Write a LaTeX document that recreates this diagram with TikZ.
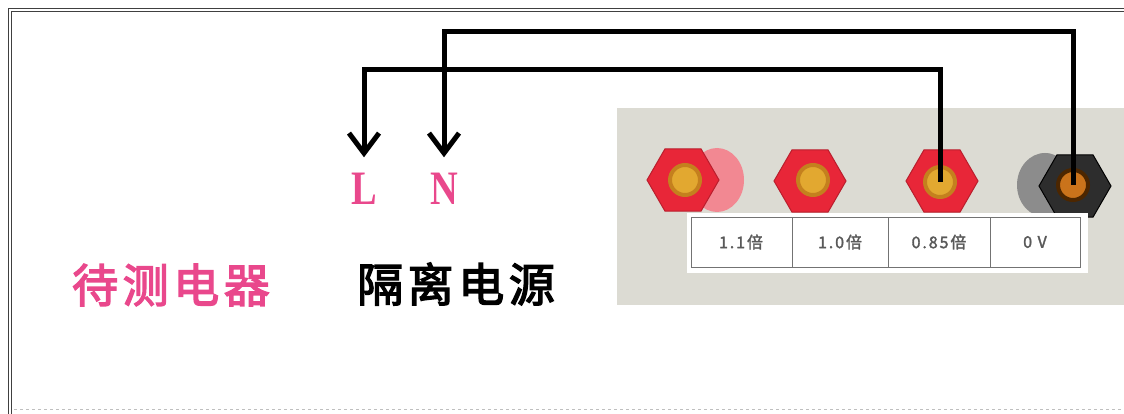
\documentclass[tikz,border=0pt]{standalone}
\usepackage{tikz}
\usepackage{xcolor}
\usepackage{graphicx}
\usepackage{fontspec}
\setmainfont{Liberation Serif}
\newfontfamily\cjkbig[LetterSpace=10,FakeBold=3]{Noto Sans CJK SC}
\newfontfamily\cjklbl[LetterSpace=12,FakeBold=2]{Noto Sans CJK SC}
\usetikzlibrary{arrows.meta}
\usetikzlibrary{shapes.geometric}
\definecolor{pinktxt}{RGB}{233,72,140}
\definecolor{panelgray}{RGB}{220,219,211}
\definecolor{nutred}{RGB}{232,38,56}
\definecolor{nutdark}{RGB}{45,45,45}
\definecolor{holegold}{RGB}{226,168,48}
\definecolor{holecore}{RGB}{196,128,30}

\begin{document}
\begin{tikzpicture}[x=1pt,y=-1pt,
	wire/.style={line width=5pt, line join=miter},
	nut/.style={regular polygon, regular polygon sides=6, minimum size=72pt, inner sep=0pt, fill=nutred, draw=nutred!80!black, line width=1pt},
	hole/.style={circle, minimum size=30pt, inner sep=0pt, fill=holegold, draw=holecore, line width=4pt},
	cell/.style={font=\cjklbl\fontsize{16pt}{16pt}\selectfont, text=black!65},
	bigtext/.style={font=\cjkbig\fontsize{46pt}{46pt}\selectfont},
	lnlabel/.style={font=\bfseries\fontsize{48pt}{48pt}\selectfont, text=pinktxt, inner sep=0pt, outer sep=16pt}]
	\useasboundingbox (0,0) rectangle (1124,414);
	% frame
	\draw[black!75, double=white, double distance=2pt, line width=1.3pt, line join=miter] (10,414) -- (10,10) -- (1124,10);
	\draw[black!25, dashed, line width=1pt] (14,409) -- (1124,409);
	
	% panel with the terminals
	\fill[panelgray] (617,108) rectangle (1124,305);
	\fill[nutred!55!white] (717,180) ellipse [x radius=27, y radius=32];
	\node[nut] (t1) at (683,180) {};
	\node[hole] (h1) at (685,180) {};
	\node[nut] (t2) at (810,181) {};
	\node[hole] (h2) at (813,180) {};
	\node[nut] (t3) at (942,181) {};
	\node[hole] (h3) at (940,182) {};
	\fill[black!45] (1045,185) ellipse [x radius=28, y radius=32];
	\node[nut, fill=nutdark, draw=black] (t4) at (1075,186) {};
	\node[hole, fill=holecore!90!red, draw=black!70!orange] (h4) at (1073,185) {};
	
	% label strip
	\fill[white] (687,213) rectangle (1088,273);
	\draw[black!55, line width=1pt] (691,218) rectangle (1080,267);
	\foreach \x in {792,888,990}
		\draw[black!55, line width=1pt] (\x,218) -- (\x,267);
	\node[cell] (c1) at (741,242) {1.1倍};
	\node[cell] (c2) at (840,242) {1.0倍};
	\node[cell] (c3) at (939,242) {0.85倍};
	\node[cell] (c4) at (1035,242) {0 V};
	
	% texts
	\node[bigtext, text=pinktxt] (dut) at (171,285) {待测电器};
	\node[bigtext, text=black] (src) at (456,284) {隔离电源};
	\node[lnlabel] (L) at (364,189) {\scalebox{0.8}[1]{L}};
	\node[lnlabel] (N) at (444,189) {\scalebox{0.8}[1]{N}};
	
	% wires
	\coordinate (Ltop) at (364,70);
	\coordinate (Ntop) at (444,32);
	\draw[wire,-{Straight Barb[length=20pt,width=30pt]}] (h3.center) |- (Ltop) -- (L.north);
	\draw[wire,-{Straight Barb[length=20pt,width=30pt]}] (h4.center) |- (Ntop) -- (N.north);
\end{tikzpicture}
\end{document}
